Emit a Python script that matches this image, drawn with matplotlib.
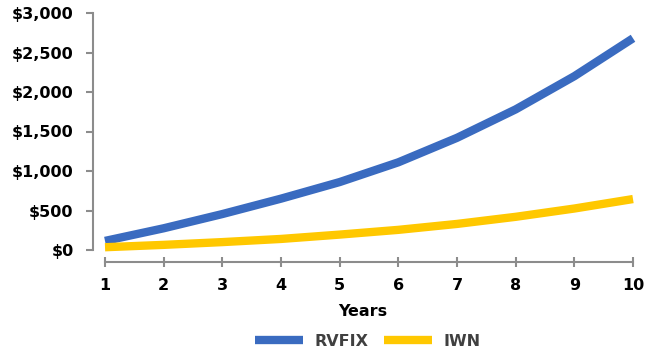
import matplotlib.pyplot as plt
from matplotlib.ticker import FuncFormatter

# values
years = [1, 2, 3, 4, 5, 6, 7, 8, 9, 10]
rvfix = [115, 275, 455, 650, 860, 1110, 1420, 1780, 2200, 2680]
iwn = [35, 65, 100, 140, 195, 255, 330, 420, 525, 645]

blue = '#3A6BC0'
yellow = '#FFC800'
grey = '#8C8C8C'

fig = plt.figure(figsize=(6.57, 3.52), dpi=100)
ax = fig.add_axes([93 / 657, 1 - 250 / 352, (633 - 93) / 657, (250 - 13) / 352])

ax.plot(years, rvfix, color=blue, lw=6, solid_capstyle='butt', solid_joinstyle='round',
        label='RVFIX', clip_on=False)
ax.plot(years, iwn, color=yellow, lw=6, solid_capstyle='butt', solid_joinstyle='round',
        label='IWN', clip_on=False)

px_per_year = (633 - 105) / 9
ax.set_xlim(1 - 12 / px_per_year, 10)
ax.set_ylim(0, 3000)
ax.set_xticks(years)
ax.set_yticks(range(0, 3001, 500))
ax.yaxis.set_major_formatter(FuncFormatter(lambda v, p: '${:,.0f}'.format(v)))

for s in ['top', 'right']:
    ax.spines[s].set_visible(False)
for s in ['left', 'bottom']:
    ax.spines[s].set_color(grey)
    ax.spines[s].set_linewidth(1.5)
ax.spines['bottom'].set_position(('outward', 8.6))
ax.spines['bottom'].set_bounds(1, 10)
ax.spines['left'].set_bounds(0, 3000)

ax.tick_params(axis='y', length=5, width=1.5, color=grey, pad=9, labelsize=11.5)
ax.tick_params(axis='x', direction='inout', length=7, width=1.5, color=grey, pad=8, labelsize=11.5)
for lab in ax.get_xticklabels() + ax.get_yticklabels():
    lab.set_fontweight('bold')

ax.set_xlabel('Years', fontsize=11.5, fontweight='bold', labelpad=8)

fig.legend(loc='center', bbox_to_anchor=(368 / 657, 1 - 341 / 352), ncol=2, frameon=False,
           handlelength=3.0, columnspacing=1.0, handletextpad=0.7,
           prop={'weight': 'bold', 'size': 11.5}, labelcolor='#404040')

fig.savefig('out.png', dpi=100)
